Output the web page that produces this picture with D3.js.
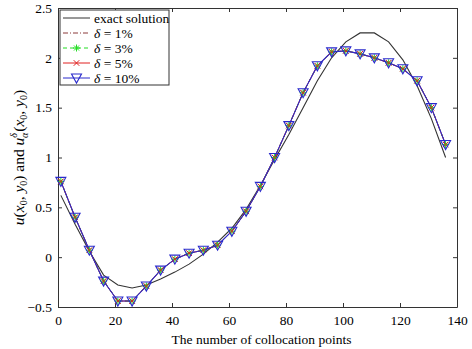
<!DOCTYPE html>
<html>
<head>
  <script src="https://d3js.org/d3.v7.min.js"></script>
  <style>
    body { margin: 0; background: #fff; }
    svg text { font-family: 'Liberation Serif', 'DejaVu Serif', serif !important; }
  </style>
</head>
<body>
<div id="chart"></div>
<script>
  // collocation point index
  var xs = [1, 6, 11, 16, 21, 26, 31, 36, 41, 46, 51, 56, 61, 66, 71, 76, 81, 86, 91, 96, 101, 106, 111, 116, 121, 126, 131, 136];
  var exact = [0.62, 0.33, 0.06, -0.18, -0.28, -0.31, -0.28, -0.22, -0.15, -0.07, 0.03, 0.15, 0.29, 0.48, 0.72, 0.98, 1.23, 1.5, 1.77, 2.0, 2.16, 2.25, 2.25, 2.16, 1.98, 1.72, 1.39, 1.0];
  var d1 = [0.76, 0.4, 0.07, -0.24, -0.44, -0.44, -0.29, -0.13, -0.02, 0.04, 0.07, 0.12, 0.26, 0.46, 0.71, 1.0, 1.32, 1.65, 1.92, 2.06, 2.07, 2.04, 2.0, 1.95, 1.89, 1.77, 1.5, 1.13];
  var d3p = [0.76, 0.4, 0.07, -0.24, -0.44, -0.44, -0.29, -0.13, -0.02, 0.04, 0.07, 0.12, 0.26, 0.46, 0.71, 1.0, 1.32, 1.65, 1.92, 2.06, 2.07, 2.04, 2.0, 1.95, 1.89, 1.77, 1.5, 1.13];
  var d5 = [0.76, 0.4, 0.07, -0.24, -0.44, -0.44, -0.29, -0.13, -0.02, 0.04, 0.07, 0.12, 0.26, 0.46, 0.71, 1.0, 1.32, 1.65, 1.92, 2.06, 2.07, 2.04, 2.0, 1.95, 1.89, 1.77, 1.5, 1.13];
  var d10 = [0.76, 0.4, 0.07, -0.24, -0.44, -0.44, -0.29, -0.13, -0.02, 0.04, 0.07, 0.12, 0.26, 0.46, 0.71, 1.0, 1.32, 1.65, 1.92, 2.06, 2.07, 2.04, 2.0, 1.95, 1.89, 1.77, 1.5, 1.13];
  var xTicks = [0, 20, 40, 60, 80, 100, 120, 140];
  var yTicks = [-0.5, 0, 0.5, 1, 1.5, 2, 2.5];
  var legendLabels = ["exact solution", "1%", "3%", "5%", "10%"];

  var FONT = "Liberation Serif, DejaVu Serif, serif";
  var FS = 13.5;
  var W = 472, H = 349;
  var margin = {top: 8, right: 15, bottom: 42, left: 58};
  var width = W - margin.left - margin.right;
  var height = H - margin.top - margin.bottom;

  var svg = d3.select("#chart").append("svg")
    .attr("width", W).attr("height", H)
    .attr("font-family", FONT);
  var g = svg.append("g")
    .attr("transform", "translate(" + margin.left + "," + margin.top + ")");

  var x = d3.scaleLinear().domain([0, 140]).range([0, width]);
  var y = d3.scaleLinear().domain([-0.5, 2.5]).range([height, 0]);

  function fmt(d) { return d3.format("")(d); }

  // axes with inside ticks (MATLAB style)
  var ax = g.append("g").attr("transform", "translate(0," + height + ")")
    .call(d3.axisBottom(x).tickValues(xTicks).tickFormat(fmt).tickSizeInner(-4).tickSizeOuter(0).tickPadding(8));
  var axTop = g.append("g")
    .call(d3.axisTop(x).tickValues(xTicks).tickFormat("").tickSizeInner(-4).tickSizeOuter(0));
  var ay = g.append("g")
    .call(d3.axisLeft(y).tickValues(yTicks).tickFormat(fmt).tickSizeInner(-4).tickSizeOuter(0).tickPadding(6));
  var ayR = g.append("g").attr("transform", "translate(" + width + ",0)")
    .call(d3.axisRight(y).tickValues(yTicks).tickFormat("").tickSizeInner(-4).tickSizeOuter(0));
  [ax, axTop, ay, ayR].forEach(function(a) {
    a.attr("font-family", FONT).attr("font-size", FS);
    a.select(".domain").attr("stroke", "#333");
    a.selectAll(".tick line").attr("stroke", "#333");
    a.selectAll("text").attr("fill", "#000");
  });

  var line = d3.line().x(function(d) { return x(d[0]); }).y(function(d) { return y(d[1]); });
  function pts(arr) { return xs.map(function(v, i) { return [v, arr[i]]; }); }

  // lines
  g.append("path").datum(pts(exact)).attr("d", line)
    .attr("fill", "none").attr("stroke", "#333").attr("stroke-width", 1.1);
  g.append("path").datum(pts(d1)).attr("d", line)
    .attr("fill", "none").attr("stroke", "#8b3a3a").attr("stroke-width", 1).attr("stroke-dasharray", "5,2,1,2");
  g.append("path").datum(pts(d3p)).attr("d", line)
    .attr("fill", "none").attr("stroke", "#22dd22").attr("stroke-width", 1).attr("stroke-dasharray", "4,3");
  g.append("path").datum(pts(d5)).attr("d", line)
    .attr("fill", "none").attr("stroke", "#e02020").attr("stroke-width", 1);
  g.append("path").datum(pts(d10)).attr("d", line)
    .attr("fill", "none").attr("stroke", "#2a2acc").attr("stroke-width", 1.1);

  // marker drawers
  function tri(sel, cx, cy) {
    sel.append("path")
      .attr("d", "M" + (cx - 5) + "," + (cy - 4) + "L" + (cx + 5) + "," + (cy - 4) + "L" + cx + "," + (cy + 5) + "Z")
      .attr("fill", "none").attr("stroke", "#2a2acc").attr("stroke-width", 1.1);
  }
  function star(sel, cx, cy) {
    var r = 3.5;
    sel.append("path")
      .attr("d", "M" + (cx - r) + "," + cy + "L" + (cx + r) + "," + cy +
        "M" + cx + "," + (cy - r) + "L" + cx + "," + (cy + r) +
        "M" + (cx - 2.5) + "," + (cy - 2.5) + "L" + (cx + 2.5) + "," + (cy + 2.5) +
        "M" + (cx - 2.5) + "," + (cy + 2.5) + "L" + (cx + 2.5) + "," + (cy - 2.5))
      .attr("stroke", "#22dd22").attr("stroke-width", 1);
  }
  function cross(sel, cx, cy) {
    var r = 2.8;
    sel.append("path")
      .attr("d", "M" + (cx - r) + "," + (cy - r) + "L" + (cx + r) + "," + (cy + r) +
        "M" + (cx - r) + "," + (cy + r) + "L" + (cx + r) + "," + (cy - r))
      .attr("stroke", "#e02020").attr("stroke-width", 1);
  }

  var mk = g.append("g");
  xs.forEach(function(v, i) { star(mk, x(v), y(d3p[i])); });
  xs.forEach(function(v, i) { cross(mk, x(v), y(d5[i])); });
  xs.forEach(function(v, i) { tri(mk, x(v), y(d10[i])); });

  // legend
  var lg = g.append("g").attr("transform", "translate(2,2)");
  lg.append("rect").attr("x", 0).attr("y", 0).attr("width", 109).attr("height", 75)
    .attr("fill", "#fff").attr("stroke", "#333").attr("stroke-width", 1);
  var rows = [
    {stroke: "#333", dash: null, m: null},
    {stroke: "#8b3a3a", dash: "5,2,1,2", m: null},
    {stroke: "#22dd22", dash: "4,3", m: star},
    {stroke: "#e02020", dash: null, m: cross},
    {stroke: "#2a2acc", dash: null, m: tri}
  ];
  rows.forEach(function(r, i) {
    var yy = 8 + i * 15;
    lg.append("line").attr("x1", 3).attr("x2", 30).attr("y1", yy).attr("y2", yy)
      .attr("stroke", r.stroke).attr("stroke-width", 1).attr("stroke-dasharray", r.dash);
    if (r.m) r.m(lg, 16.5, yy);
    var t = lg.append("text").attr("x", 34).attr("y", yy + 4.5).attr("font-size", FS).attr("fill", "#000");
    if (i === 0) {
      t.text(legendLabels[0]);
    } else {
      t.append("tspan").attr("font-style", "italic").text("δ");
      t.append("tspan").text(" = " + legendLabels[i]);
    }
  });

  // x label
  svg.append("text").attr("x", margin.left + width / 2 + 4).attr("y", H - 5)
    .attr("text-anchor", "middle").attr("font-size", FS).text("The number of collocation points");

  // y label
  var yl = svg.append("text")
    .attr("transform", "translate(24," + (margin.top + height / 2) + ") rotate(-90)")
    .attr("text-anchor", "middle").attr("font-size", 15.5);
  yl.append("tspan").attr("font-style", "italic").text("u");
  yl.append("tspan").text("(");
  yl.append("tspan").attr("font-style", "italic").text("x");
  yl.append("tspan").attr("font-size", 10).attr("dy", 3).text("0");
  yl.append("tspan").attr("dy", -3).text(", ");
  yl.append("tspan").attr("font-style", "italic").text("y");
  yl.append("tspan").attr("font-size", 10).attr("dy", 3).text("0");
  yl.append("tspan").attr("dy", -3).text(") and ");
  yl.append("tspan").attr("font-style", "italic").text("u");
  yl.append("tspan").attr("font-style", "italic").attr("font-size", 10).attr("dy", -7).text("δ");
  yl.append("tspan").attr("font-style", "italic").attr("font-size", 10).attr("dx", -5).attr("dy", 11).text("α");
  yl.append("tspan").attr("dx", 1).attr("dy", -4).text("(");
  yl.append("tspan").attr("font-style", "italic").text("x");
  yl.append("tspan").attr("font-size", 10).attr("dy", 3).text("0");
  yl.append("tspan").attr("dy", -3).text(", ");
  yl.append("tspan").attr("font-style", "italic").text("y");
  yl.append("tspan").attr("font-size", 10).attr("dy", 3).text("0");
  yl.append("tspan").attr("dy", -3).text(")");
</script>
</body>
</html>
